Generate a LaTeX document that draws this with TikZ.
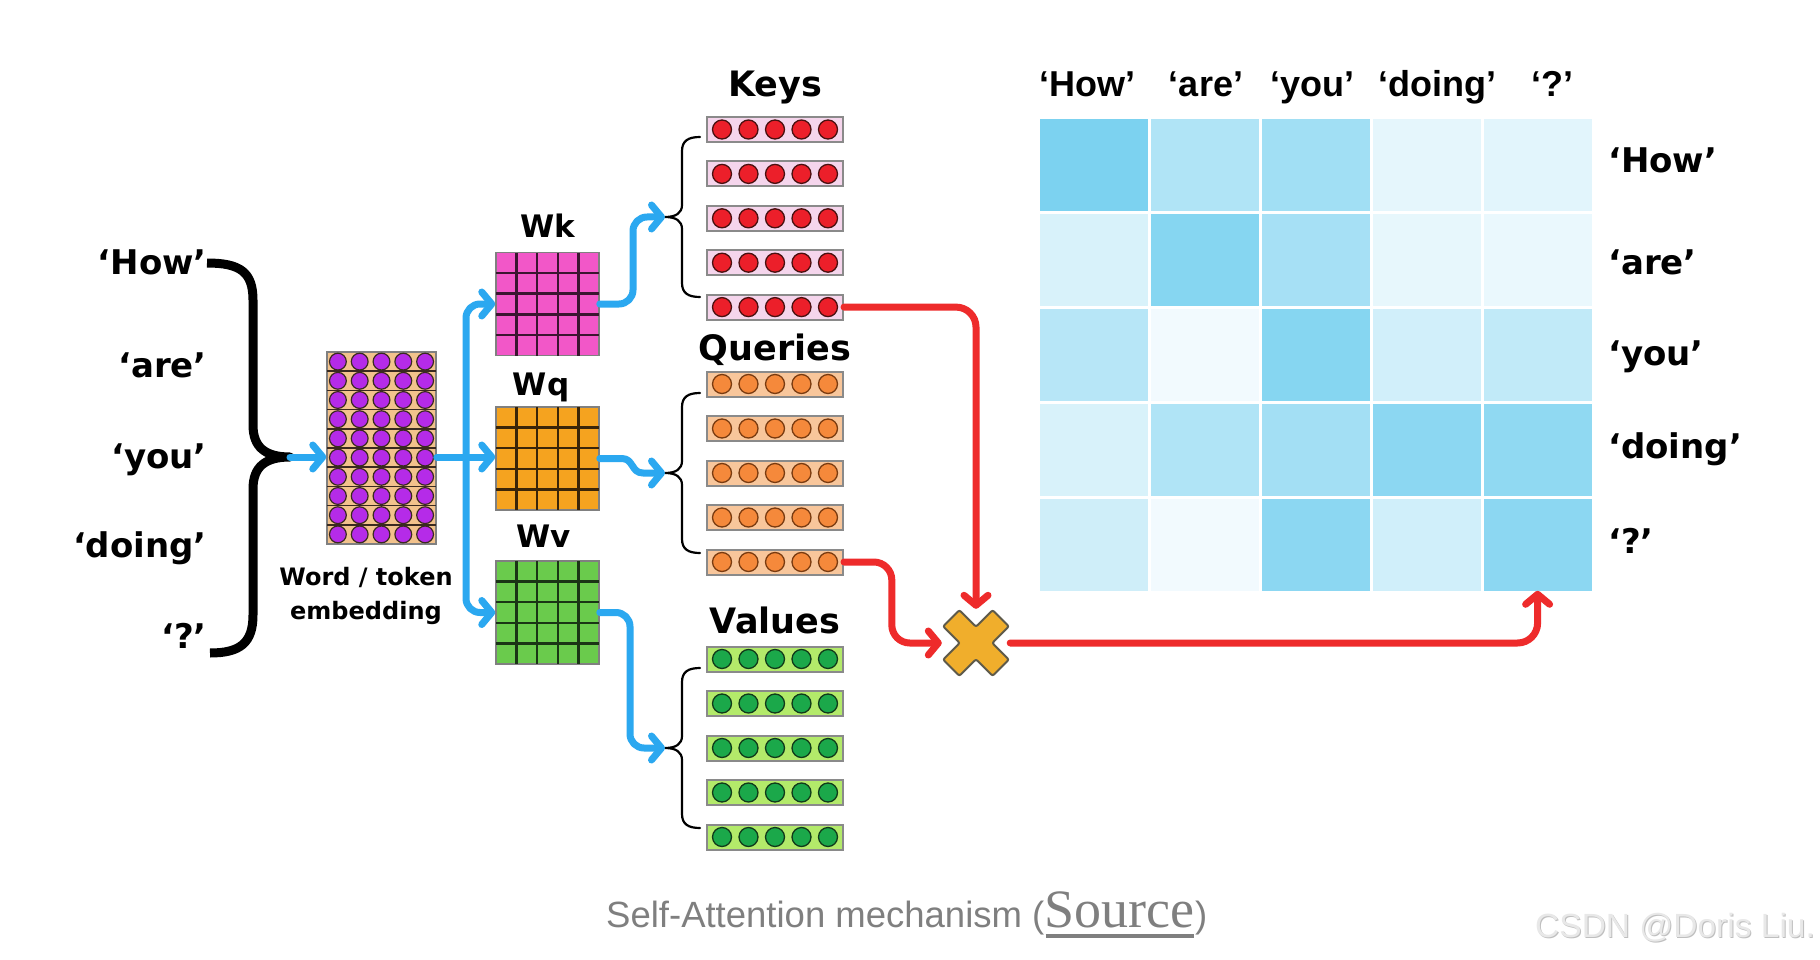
\documentclass[tikz,border=0pt]{standalone}
\usepackage{fontspec}
\usetikzlibrary{arrows.meta,calc}
\newfontfamily\labfont{DejaVu Sans}
\newfontfamily\hdrfont{Liberation Sans}
\newfontfamily\srcfont{Liberation Serif}
\definecolor{myblue}{HTML}{2BA8F0}
\definecolor{myred}{HTML}{EE2B2B}
\definecolor{crossfill}{HTML}{F0AE2C}
\definecolor{crossedge}{HTML}{5E5A4A}
\definecolor{wkfill}{HTML}{F257C8}
\definecolor{wkline}{HTML}{3B1530}
\definecolor{wqfill}{HTML}{F5A31F}
\definecolor{wqline}{HTML}{3A2508}
\definecolor{wvfill}{HTML}{6ACB4C}
\definecolor{wvline}{HTML}{1A3515}
\definecolor{embfill}{HTML}{F2C28C}
\definecolor{embdot}{HTML}{B52BE8}
\definecolor{embline}{HTML}{3A2A20}
\definecolor{kfill}{HTML}{F5D5EC}
\definecolor{kdot}{HTML}{EC1F2A}
\definecolor{kedge}{HTML}{4A1010}
\definecolor{qfill}{HTML}{F8C69B}
\definecolor{qdot}{HTML}{F5893B}
\definecolor{qedge}{HTML}{7A3B10}
\definecolor{vfill}{HTML}{B3EA6A}
\definecolor{vdot}{HTML}{1BA84A}
\definecolor{vedge}{HTML}{113A1A}
\definecolor{vborder}{HTML}{8A8A8A}
\definecolor{hm}{HTML}{7CD2F0}
\definecolor{capgray}{HTML}{7F7F7F}
\begin{document}
\begin{tikzpicture}[x=1pt,y=-1pt,
  word/.style={font=\labfont\bfseries\fontsize{34}{34}\selectfont, inner sep=0pt},
  hdr/.style={font=\hdrfont\bfseries\fontsize{36}{36}\selectfont, inner sep=0pt, anchor=base},
  title/.style={font=\labfont\bfseries\fontsize{35}{35}\selectfont, inner sep=0pt, anchor=base},
  mlab/.style={font=\labfont\bfseries\fontsize{31}{31}\selectfont, inner sep=0pt, anchor=base},
  conn/.style={line width=7pt, line cap=round, line join=round, -{Straight Barb[length=10pt,width=24pt,round]}},
  bluearrow/.style={conn, draw=myblue},
  redarrow/.style={conn, draw=myred},
  vecbox/.style={draw=vborder, line width=2pt, minimum width=136pt, minimum height=25pt, inner sep=0pt},
  matbox/.style={draw=gray, line width=1.5pt, minimum width=103pt, minimum height=103pt, inner sep=0pt},
  cell/.style={minimum width=108pt, minimum height=92pt, inner sep=0pt},
  thinbrace/.style={draw=black, line width=2.2pt, line cap=round, line join=round},
  bigbrace/.style={draw=black, line width=9pt, line join=round},
]
\useasboundingbox (0,0) rectangle (1820,960);
\fill[white] (0,0) rectangle (1820,960);

% ---------- input words ----------
\node[word, anchor=base east] (w1) at (207,274) {‘How’};
\node[word, anchor=base east] (w2) at (207,377) {‘are’};
\node[word, anchor=base east] (w3) at (207,468) {‘you’};
\node[word, anchor=base east] (w4) at (207,557) {‘doing’};
\node[word, anchor=base east] (w5) at (207,648) {‘?’};
\coordinate (bt) at (290,457);
\draw[bigbrace] (207,263) .. controls (240,263) and (253,272) .. (253,300) -- (253,425)
  .. controls (253,447) and (265,457) .. (bt)
  .. controls (265,457) and (253,467) .. (253,489) -- (253,615)
  .. controls (253,643) and (240,653) .. (210,653);

% ---------- embedding ----------
\node[draw=gray, line width=1.5pt, fill=embfill, minimum width=109pt, minimum height=192pt, inner sep=0pt] (emb) at (381.5,448) {};
\foreach \r in {1,...,9} \draw[draw=embline, line width=1.5pt] (327,{352+19.2*\r}) -- (436,{352+19.2*\r});
\foreach \r in {0,...,9} \foreach \c in {0,...,4}
  \filldraw[fill=embdot, draw=embline, line width=1.2pt] ({327+10.9+21.8*\c},{352+9.6+19.2*\r}) circle[radius=8.4pt];
\node[font=\labfont\bfseries\fontsize{24}{34}\selectfont, align=center, inner sep=0pt] (embl) at (366,596) {Word / token\\embedding};

% ---------- weight matrices ----------
\foreach \n/\cy/\fc/\lc in {Wk/304/wkfill/wkline, Wq/458.5/wqfill/wqline, Wv/612.5/wvfill/wvline} {
  \node[matbox, fill=\fc] (\n) at (547.5,\cy) {};
  \foreach \i in {1,...,4} {
    \draw[draw=\lc, line width=2.5pt] ({496+20.6*\i},{\cy-51.5}) -- ({496+20.6*\i},{\cy+51.5});
    \draw[draw=\lc, line width=2.5pt] (496,{\cy-51.5+20.6*\i}) -- (599,{\cy-51.5+20.6*\i});
  }
}
\node[mlab] (lWk) at (548,237) {Wk};
\node[mlab] (lWq) at (541,395) {Wq};
\node[mlab] (lWv) at (544,547) {Wv};

% ---------- key / query / value vectors ----------
\node[title] (tK) at (775,97) {Keys};
\node[title] (tQ) at (775,360) {Queries};
\node[title] (tV) at (775,633) {Values};
\foreach \i in {1,...,5} {
  \node[vecbox, fill=kfill] (k\i) at (775,{129.5+44.4*(\i-1)}) {};
  \node[vecbox, fill=qfill] (q\i) at (775,{384+44.5*(\i-1)}) {};
  \node[vecbox, fill=vfill] (v\i) at (775,{659+44.5*(\i-1)}) {};
  \foreach \d in {-2,...,2} {
    \filldraw[fill=kdot, draw=kedge, line width=1.3pt] ($(k\i)+(26.5*\d,0)$) circle[radius=9.5pt];
    \filldraw[fill=qdot, draw=qedge, line width=1.3pt] ($(q\i)+(26.5*\d,0)$) circle[radius=9.5pt];
    \filldraw[fill=vdot, draw=vedge, line width=1.3pt] ($(v\i)+(26.5*\d,0)$) circle[radius=9.5pt];
  }
}
\coordinate (kt) at (665,217);
\coordinate (qt) at (665,473);
\coordinate (vt) at (665,748);
\foreach \t/\m/\b in {137/217/297, 393/473/553, 668/748/828}
  \draw[thinbrace] (700,\t) .. controls (688,\t) and (682,\t+4) .. (682,\t+14) -- (682,\m-12)
    .. controls (682,\m-4) and (676,\m) .. (665,\m)
    .. controls (676,\m) and (682,\m+4) .. (682,\m+12) -- (682,\b-14)
    .. controls (682,\b-4) and (688,\b) .. (700,\b);

% ---------- blue connectors ----------
\coordinate (split) at (466,457);
\draw[bluearrow] (bt) -- (bt -| emb.west);
\draw[bluearrow] (emb.east |- bt) -- (Wq.west |- bt);
\draw[bluearrow, rounded corners=14pt] (split) |- (Wk.west);
\draw[bluearrow, rounded corners=14pt] (split) |- (Wv.west);
\draw[bluearrow, rounded corners=14pt] (Wk.east) -| ($(kt)+(-32,0)$) -- (kt);
\draw[bluearrow] (Wq.east) -- ++(22,0) .. controls +(12,0) and +(-12,0) .. ($(qt)+(-22,0)$) -- (qt);
\draw[bluearrow, rounded corners=14pt] (Wv.east) -| ($(vt)+(-35,0)$) -- (vt);

% ---------- multiplication cross ----------
\node[circle, minimum size=68pt, inner sep=0pt] (mul) at (976,643) {};
\begin{scope}[shift={(976,643)}, rotate=45]
  \filldraw[fill=crossfill, draw=crossedge, line width=2pt, rounded corners=2pt]
    (35,-11.5) -- (11.5,-11.5) -- (11.5,-35) -- (-11.5,-35) -- (-11.5,-11.5) -- (-35,-11.5)
    -- (-35,11.5) -- (-11.5,11.5) -- (-11.5,35) -- (11.5,35) -- (11.5,11.5) -- (35,11.5) -- cycle;
\end{scope}

% ---------- heat map ----------
\foreach \r/\vals in {1/{100,60,72,20,22},2/{30,92,68,18,16},3/{55,10,92,35,47},4/{30,60,70,88,85},5/{37,10,88,36,88}} {
  \foreach \p [count=\c] in \vals {
    \node[cell, fill=hm!\p] (c\r\c) at ({1039+110.8*(\c-0.5)},{118+94.8*(\r-0.5)}) {};
  }
}
\node[hdr] (h1) at (1087,97) {‘How’};
\node[hdr] (h2) at (1206,97) {‘are’};
\node[hdr] (h3) at (1312,97) {‘you’};
\node[hdr] (h4) at (1437,97) {‘doing’};
\node[hdr] (h5) at (1552,97) {‘?’};
\node[word, anchor=base west] (r1) at (1608,173) {‘How’};
\node[word, anchor=base west] (r2) at (1608,274) {‘are’};
\node[word, anchor=base west] (r3) at (1608,365) {‘you’};
\node[word, anchor=base west] (r4) at (1608,458) {‘doing’};
\node[word, anchor=base west] (r5) at (1608,553) {‘?’};

% ---------- red connectors ----------
\draw[redarrow, rounded corners=20pt] (k5.east) -| (mul.north);
\draw[redarrow, rounded corners=18pt] (q5.east) -| ($(mul.west)+(-50,0)$) -- (mul.west);
\draw[redarrow, rounded corners=20pt] (mul.east) -| (c55.south);

% ---------- caption ----------
\node[font=\hdrfont\fontsize{36.5}{36.5}\selectfont, text=capgray, inner sep=0pt, anchor=base west] (cap1) at (606,927) {Self-Attention mechanism (};
\node[font=\srcfont\fontsize{54}{54}\selectfont, text=capgray, inner sep=0pt, anchor=base west] (src) at (cap1.base east) {Source};
\node[font=\hdrfont\fontsize{36.5}{36.5}\selectfont, text=capgray, inner sep=0pt, anchor=base west] (cap2) at (src.base east) {)};
\draw[capgray, line width=4pt] ($(src.base west)+(1,9)$) -- ($(src.base east)+(-1,9)$);
\node[font=\hdrfont\fontsize{33.5}{33.5}\selectfont, text=black!25, inner sep=0pt, anchor=base west] (wm0) at (1536,938.5) {CSDN @Doris Liu.};
\node[font=\hdrfont\fontsize{33.5}{33.5}\selectfont, text=black!9, inner sep=0pt, anchor=base west] (wm) at (1535,937) {CSDN @Doris Liu.};
\end{tikzpicture}
\end{document}
